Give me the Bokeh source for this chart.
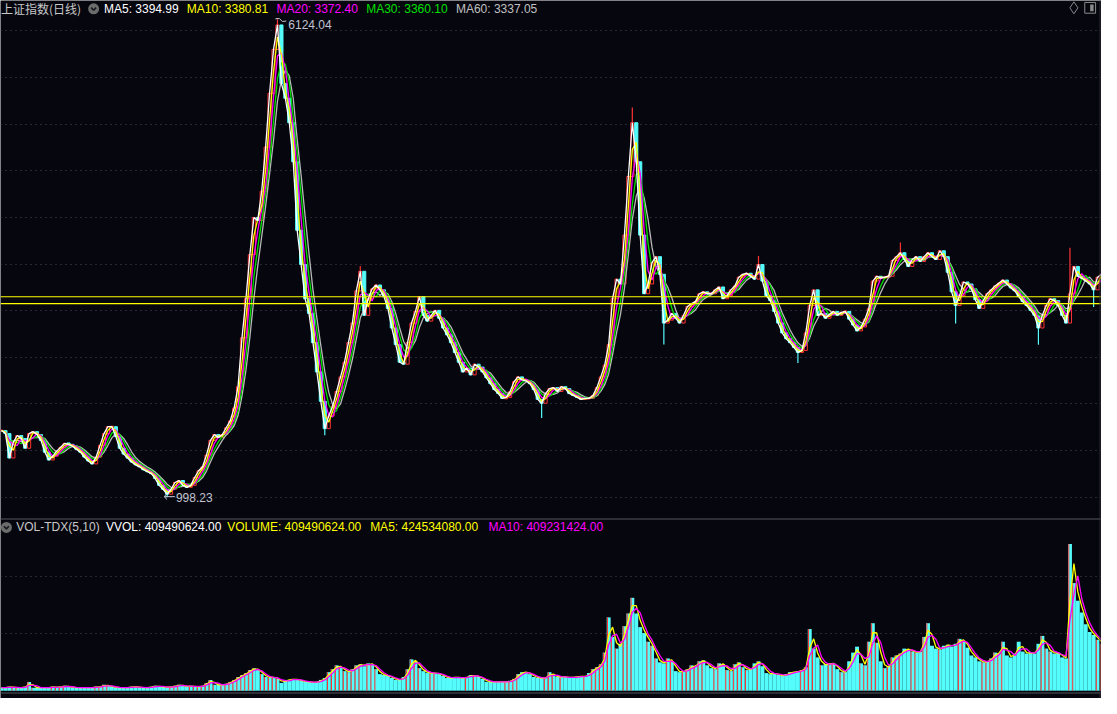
import pandas as pd
from bokeh.plotting import figure
from bokeh.models import Range1d, Span, Grid, FixedTicker, Label, ColumnDataSource
from bokeh.embed import file_html
from bokeh.resources import INLINE

# ---------------- data (one sample every ~4 px) ----------------
close = [
    1714, 1682, 1420, 1588, 1661, 1630, 1525, 1682, 1703, 1672,
    1609, 1483, 1399, 1441, 1494, 1535, 1577, 1567, 1546, 1514,
    1483, 1431, 1389, 1357, 1431, 1556, 1682, 1756, 1756, 1651,
    1525, 1462, 1420, 1378, 1347, 1326, 1294, 1273, 1252, 1200,
    1127, 1085, 1032, 1085, 1158, 1179, 1127, 1106, 1127, 1211,
    1284, 1326, 1452, 1609, 1672, 1640, 1672, 1745, 1818, 1955,
    2185, 2709, 3128, 3600, 3998, 3967, 4281, 4753, 5330, 5801,
    6063, 5434, 5277, 5015, 4596, 3862, 3495, 3128, 2971, 2657,
    2343, 2028, 1735, 1871, 1976, 2133, 2290, 2447, 2657, 2867,
    3212, 3422, 2950, 3128, 3233, 3275, 3223, 3150, 3024, 2814,
    2636, 2447, 2426, 2657, 2867, 2992, 3150, 2950, 2888, 2950,
    3003, 2919, 2814, 2741, 2657, 2552, 2447, 2343, 2385, 2311,
    2426, 2395, 2343, 2280, 2217, 2154, 2112, 2060, 2070, 2133,
    2238, 2290, 2259, 2248, 2217, 2154, 2049, 2007, 2112, 2164,
    2175, 2133, 2185, 2164, 2112, 2091, 2070, 2049, 2060, 2060,
    2091, 2175, 2290, 2416, 2636, 3128, 3338, 3286, 3810, 4438,
    5015, 4596, 3810, 3181, 3286, 3516, 3579, 3390, 2867, 2898,
    2971, 2919, 2867, 2950, 3045, 3076, 3097, 3181, 3202, 3181,
    3181, 3223, 3254, 3128, 3160, 3223, 3265, 3359, 3390, 3401,
    3369, 3338, 3495, 3317, 3160, 3107, 2992, 2867, 2762, 2699,
    2657, 2605, 2552, 2573, 2762, 3055, 3223, 2950, 2971, 2919,
    2961, 2992, 2950, 2982, 2992, 2909, 2846, 2783, 2825, 2909,
    3024, 3317, 3369, 3348, 3359, 3369, 3537, 3579, 3621, 3548,
    3474, 3548, 3579, 3527, 3579, 3621, 3579, 3548, 3642, 3579,
    3411, 3202, 3055, 3160, 3307, 3286, 3233, 3118, 3024, 3107,
    3181, 3223, 3265, 3296, 3328, 3286, 3244, 3212, 3150, 3097,
    3055, 3003, 2950, 2814, 2950, 3055, 3128, 3107, 3055, 2950,
    2867, 3181, 3474, 3369, 3348, 3317, 3286, 3223, 3359, 3390,
]

# volume, millions
volume = [
    26, 26, 34, 26, 26, 26, 34, 77, 26, 26,
    26, 26, 26, 34, 26, 34, 43, 34, 26, 26,
    26, 26, 26, 26, 34, 34, 51, 43, 34, 26,
    26, 26, 26, 34, 34, 26, 26, 26, 34, 43,
    34, 34, 26, 34, 43, 51, 43, 34, 43, 34,
    34, 43, 68, 94, 51, 51, 51, 60, 77, 94,
    120, 137, 154, 180, 197, 180, 145, 120, 111, 120,
    103, 68, 94, 94, 103, 94, 86, 77, 77, 68,
    77, 94, 111, 162, 188, 222, 205, 171, 162, 188,
    222, 231, 214, 239, 231, 188, 145, 137, 128, 111,
    94, 94, 120, 188, 274, 257, 197, 171, 154, 154,
    154, 145, 128, 111, 111, 120, 111, 111, 120, 137,
    128, 120, 103, 77, 77, 77, 77, 77, 77, 86,
    103, 145, 162, 162, 145, 120, 111, 111, 111, 162,
    128, 120, 120, 120, 111, 120, 120, 128, 120, 154,
    188, 205, 231, 333, 641, 470, 368, 410, 564, 675,
    812, 675, 556, 504, 428, 393, 282, 248, 239, 282,
    257, 171, 162, 171, 188, 222, 214, 257, 265, 222,
    197, 188, 239, 231, 180, 171, 231, 248, 205, 180,
    188, 239, 257, 214, 154, 145, 154, 137, 128, 145,
    162, 162, 171, 180, 205, 539, 368, 291, 222, 231,
    239, 239, 188, 162, 162, 257, 333, 385, 239, 222,
    428, 590, 419, 257, 197, 214, 291, 308, 325, 368,
    359, 342, 333, 342, 470, 590, 393, 368, 359, 393,
    402, 385, 410, 453, 436, 376, 308, 291, 257, 248,
    257, 282, 333, 325, 428, 308, 291, 325, 428, 342,
    325, 333, 325, 410, 479, 368, 342, 325, 333, 291,
    282, 1283, 941, 787, 684, 581, 513, 487, 445, 410,
]

# intraday extremes (sample index, price)
wick_idx = [70, 42, 160, 271, 137, 168, 202, 263, 242, 277, 82, 91, 192, 228]
wick_val = [6124.04, 998.23, 5178, 3674, 1849, 2638, 2440, 2635, 2863, 3040, 1664, 3478, 3587, 3731]

price_ticks = [1000, 1500, 2000, 2500, 3000, 3500, 4000, 4500, 5000, 5500, 6000]
vol_ticks = [500, 1000]
guide_levels = [3149, 3076]

price_title = "上证指数(日线)"
price_header = ["MA5: 3394.99", "MA10: 3380.81", "MA20: 3372.40", "MA30: 3360.10", "MA60: 3337.05"]
vol_header = ["VOL-TDX(5,10)", "VVOL: 409490624.00", "VOLUME: 409490624.00", "MA5: 424534080.00", "MA10: 409231424.00"]
macd_header = ["MACD(12,26,9)", "DIF: 16.67", "DEA: 14.48", "MACD: 4.51"]
peak_text = "6124.04"
trough_text = "998.23"

# ---------------- layout / style ----------------
W, H = 1101, 698
STEP = 4.0
PPX = 10.4804       # price per reference pixel
P_TOP = 6325.0
VPX = 8.55          # volume (M) per reference pixel
V_BASE = 706.0
BG = "#06060f"
RED = "#ff3232"
CYAN = "#54fcfc"
FONT = "Liberation Sans"
FS = "12px"


def fx(rx):
    return rx / STEP - 0.25


def fy(ry):
    return P_TOP - ry * PPX


def fv(ry):
    return (V_BASE - ry) * VPX


p = figure(width=W, height=H, output_backend="svg", toolbar_location=None,
           x_range=Range1d(fx(0), fx(1117)), y_range=Range1d(fy(714), fy(0)),
           x_axis_location=None, y_axis_location=None, title=None,
           min_border=0, background_fill_color=BG, border_fill_color=BG,
           outline_line_color=None)
p.extra_y_ranges = {"vol": Range1d(fv(714), fv(0))}
p.grid.visible = False

p.add_layout(Grid(dimension=1, ticker=FixedTicker(ticks=price_ticks),
                  grid_line_color="#4a4a56", grid_line_dash="1 4", grid_line_width=1))
p.add_layout(Grid(dimension=1, ticker=FixedTicker(ticks=vol_ticks), y_range_name="vol",
                  grid_line_color="#4a4a56", grid_line_dash="1 4", grid_line_width=1))

for lv in guide_levels:
    p.add_layout(Span(location=lv, dimension="width", line_color="#ffff00", line_width=1.2))
p.add_layout(Span(location=fy(530.5), dimension="width", line_color="#3c3c44", line_width=1.5))
p.add_layout(Span(location=fy(708.5), dimension="width", line_color="#3c3c44", line_width=1.5))

n = len(close)
idx = list(range(n))
opens = [close[0]] + close[:-1]
tops, bots, fills, lines = [], [], [], []
for o, c in zip(opens, close):
    t, b = max(o, c), min(o, c)
    if t - b < PPX:
        t, b = t + PPX / 2, b - PPX / 2
    tops.append(t)
    bots.append(b)
    up = c >= o
    fills.append(BG if up else CYAN)
    lines.append(RED if up else CYAN)

src = ColumnDataSource(dict(i=idx, top=tops, bottom=bots, fill=fills, line=lines))

# wicks for extremes
wx, wy0, wy1, wc = [], [], [], []
for k, v in zip(wick_idx, wick_val):
    wx.append(k)
    wy0.append(tops[k] if v > tops[k] else bots[k])
    wy1.append(v)
    wc.append(lines[k])
p.segment(x0=wx, y0=wy0, x1=wx, y1=wy1, line_color=wc, line_width=1.2)

p.vbar(x="i", top="top", bottom="bottom", width=0.8, fill_color="fill",
       line_color="line", line_width=1, source=src)

s = pd.Series(close, dtype=float)
ma_colors = [(5, "#b8b8b8"), (4, "#00e000"), (3, "#ff00ff"), (2, "#ffff00"), (1, "#ffffff")]
for w, col in ma_colors:
    p.line(idx, s.rolling(w, min_periods=1).mean().tolist(), line_color=col, line_width=1.3)

# volume
p.vbar(x=idx, top=volume, bottom=0, width=1.0, fill_color=CYAN, line_color=None, y_range_name="vol")
up_i = [i for i in idx if close[i] > opens[i]]
p.segment(x0=[i - 0.3 for i in up_i], y0=[0] * len(up_i), x1=[i - 0.3 for i in up_i],
          y1=[volume[i] for i in up_i], line_color=RED, line_width=1, y_range_name="vol")
vs = pd.Series(volume, dtype=float)
p.line(idx, vs.rolling(2, min_periods=1).mean().tolist(), line_color="#ffff00", line_width=1.3, y_range_name="vol")
p.line(idx, vs.rolling(3, min_periods=1).mean().tolist(), line_color="#ff00ff", line_width=1.3, y_range_name="vol")

# peak / trough annotations
p.line([fx(279.3), fx(279.3), fx(283), fx(286), fx(290)],
       [6124.04, fy(18.5), fy(18.5), fy(21.5), fy(21)], line_color="#c0c4d0", line_width=1)
p.add_layout(Label(x=fx(292), y=fy(25), text=peak_text, text_color="#c0c4d0", text_font=FONT,
                   text_font_size=FS, text_baseline="middle", text_align="left"))
p.line([fx(166), fx(177)], [fy(507.5), fy(507.5)], line_color="#c0c4d0", line_width=1)
p.line([fx(169), fx(166), fx(169)], [fy(504.5), fy(507.5), fy(510.5)], line_color="#c0c4d0", line_width=1)
p.add_layout(Label(x=fx(178), y=fy(508), text=trough_text, text_color="#c0c4d0", text_font=FONT,
                   text_font_size=FS, text_baseline="middle", text_align="left"))


def chevron(rx, ry):
    p.scatter(x=[fx(rx)], y=[fy(ry)], size=11, marker="circle", fill_color="#6c6c6c", line_color=None)
    p.line([fx(rx - 2.5), fx(rx), fx(rx + 2.5)], [fy(ry - 1.2), fy(ry + 1.5), fy(ry - 1.2)],
           line_color="#16161c", line_width=1.6)


# price header
HY = 8.5
p.add_layout(Label(x=fx(0.5), y=fy(HY), text=price_title, text_color="#c8c8c8",
                   text_font="Noto Sans CJK SC", text_font_size=FS, text_baseline="middle"))
chevron(94.5, HY)
ph_x = [105, 189, 280, 371, 462]
ph_c = ["#ffffff", "#ffff00", "#ff00ff", "#00e000", "#c0c0c0"]
for t, x0, c in zip(price_header, ph_x, ph_c):
    p.add_layout(Label(x=fx(x0), y=fy(HY), text=t, text_color=c, text_font=FONT,
                       text_font_size=FS, text_baseline="middle"))

# right-top icons
p.scatter(x=[fx(1089)], y=[fy(7.5)], size=12, marker="diamond", fill_color=None,
          line_color="#8a8a8a", line_width=1)
p.quad(left=[fx(1100)], right=[fx(1111)], top=[fy(2)], bottom=[fy(13)], fill_color=None,
       line_color="#8a8a8a", line_width=1)
p.quad(left=[fx(1105.5)], right=[fx(1109)], top=[fy(4)], bottom=[fy(11)], fill_color="#8a8a8a",
       line_color=None)

# volume header
chevron(6, 539)
vh_x = [16, 107, 230, 375, 495]
vh_c = ["#c8c8c8", "#ffffff", "#ffff00", "#ffff00", "#ff00ff"]
for t, x0, c in zip(vol_header, vh_x, vh_c):
    p.add_layout(Label(x=fx(x0), y=fy(539), text=t, text_color=c, text_font=FONT,
                       text_font_size=FS, text_baseline="middle"))

# macd header (cut by the window bottom, as in the original)
chevron(5, 719)
mh_x = [17, 107, 170, 222]
mh_c = ["#c8c8c8", "#ffffff", "#ffff00", "#ff00ff"]
for t, x0, c in zip(macd_header, mh_x, mh_c):
    p.add_layout(Label(x=fx(x0), y=fy(719), text=t, text_color=c, text_font=FONT,
                       text_font_size=FS, text_baseline="middle"))

p.add_layout(Span(location=fx(1115.5), dimension="height", line_color="#2c2c34", line_width=1))

open("out.html", "w").write(file_html(p, INLINE))
